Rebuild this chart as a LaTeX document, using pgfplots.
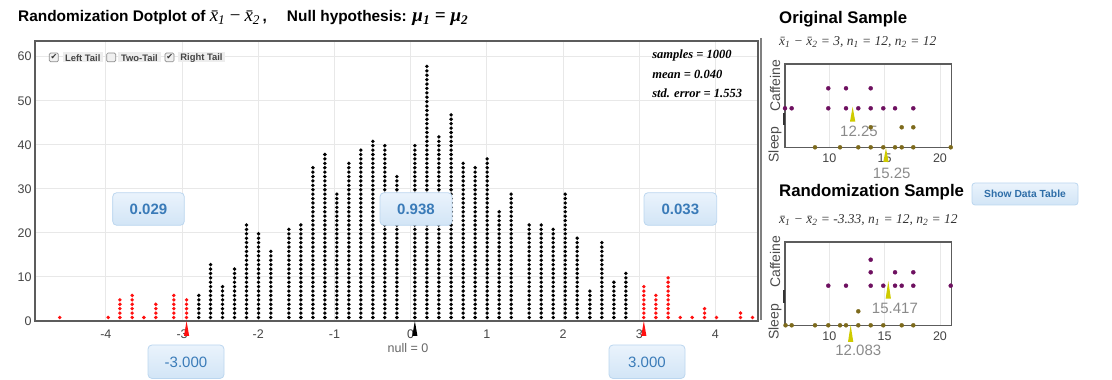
\documentclass[border=0pt]{standalone}
\usepackage{fontspec}
\setmainfont{Liberation Sans}
\newfontfamily\serifit{Liberation Serif}
\newfontfamily\djv{DejaVu Sans}
\usepackage{pgfplots}
\pgfplotsset{compat=1.18}
\definecolor{gridc}{HTML}{E8E8E8}
\definecolor{framec}{HTML}{5C5C5C}
\definecolor{tickc}{HTML}{444444}
\definecolor{dotred}{HTML}{FF1010}
\definecolor{boxtop}{HTML}{EAF3FC}
\definecolor{boxbot}{HTML}{D2E5F6}
\definecolor{boxbd}{HTML}{BBD6EF}
\definecolor{boxtxt}{HTML}{3A7BB8}
\definecolor{purp}{HTML}{6E1060}
\definecolor{oliv}{HTML}{7D6A1C}
\definecolor{yel}{HTML}{CFCB00}
\definecolor{meanc}{HTML}{8A8A8A}
\definecolor{btntxt}{HTML}{2F6EA8}
\newcommand{\fs}[1]{\fontsize{#1}{#1}\selectfont}
\newcommand{\xb}{x^^^^0304}
\begin{document}
\begin{tikzpicture}[x=1pt,y=1pt]
\path[use as bounding box] (0,0) rectangle (1112,380);
% ---------------- main dotplot ----------------
\begin{axis}[
  at={(35pt,59pt)}, anchor=south west,
  x=76.2pt, y=4.405pt,
  xmin=-4.93, xmax=4.56, ymin=0, ymax=63.56,
  axis line style={draw=none},
  xtick={-4,-3,-2,-1,0,1,2,3,4},
  xticklabels={-4,-3,-2,-1,0,1,2,3,4},
  ytick={0,10,20,30,40,50,60},
  major tick length=0pt,
  grid=major, grid style={draw=gridc, line width=0.9pt},
  tick label style={font=\fs{12.5}, text=tickc},
  xticklabel style={yshift=-5pt},
  /pgf/number format/assume math mode=true,
  clip=false,
]
\addplot[ycomb, draw=dotred, line width=3.8pt, line cap=round,
  dash pattern=on 0pt off 4.405pt, dash phase=0.9pt] table[row sep=\\] {
x n\\
-4.604 1\\ -3.970 1\\ -3.816 5\\ -3.655 6\\ -3.501 1\\ -3.344 4\\ -3.108 6\\ -2.941 5\\
};
\addplot[ycomb, draw=black, line width=3.8pt, line cap=round,
  dash pattern=on 0pt off 4.405pt, dash phase=0.9pt] table[row sep=\\] {
x n\\
-2.780 6\\ -2.626 13\\ -2.469 8\\ -2.311 12\\ -2.154 22\\ -1.996 20\\ -1.835 16\\
-1.598 21\\ -1.441 22\\ -1.283 35\\ -1.126 38\\ -0.969 29\\ -0.811 36\\ -0.654 39\\
-0.496 41\\ -0.339 40\\ -0.181 33\\ 0.055 40\\ 0.213 58\\ 0.370 42\\ 0.531 47\\
0.689 36\\ 0.846 35\\ 1.004 37\\ 1.161 25\\ 1.319 29\\ 1.555 22\\ 1.713 22\\
1.870 21\\ 2.028 29\\ 2.185 19\\ 2.352 7\\ 2.509 18\\ 2.667 9\\ 2.824 11\\
};
\addplot[ycomb, draw=dotred, line width=3.8pt, line cap=round,
  dash pattern=on 0pt off 4.405pt, dash phase=0.9pt] table[row sep=\\] {
x n\\
3.060 8\\ 3.218 6\\ 3.379 10\\ 3.537 1\\ 3.694 1\\ 3.857 3\\ 4.014 1\\ 4.329 2\\ 4.487 1\\
};
\draw[framec, line width=2pt] (rel axis cs:0,0) rectangle (rel axis cs:1,1);
% pointers
\fill[dotred] (axis cs:-2.941,0) -- ([xshift=-2.6pt,yshift=-15pt]axis cs:-2.941,0) -- ([xshift=2.6pt,yshift=-15pt]axis cs:-2.941,0) -- cycle;
\fill[dotred] (axis cs:3.060,0) -- ([xshift=-2.6pt,yshift=-15pt]axis cs:3.060,0) -- ([xshift=2.6pt,yshift=-15pt]axis cs:3.060,0) -- cycle;
\fill[black] (axis cs:0.055,0) -- ([xshift=-2.6pt,yshift=-15pt]axis cs:0.055,0) -- ([xshift=2.6pt,yshift=-15pt]axis cs:0.055,0) -- cycle;
\end{axis}
% title
\node[anchor=west, inner sep=0] at (18,362) {\fs{15.4}\bfseries Randomization Dotplot of {\serifit\mdseries\itshape\fs{19}\xb\textsubscript{1}\,−\,\xb\textsubscript{2}}\,,\hspace{1.3em}Null hypothesis: {\serifit\itshape\fs{19}μ\textsubscript{1} = μ\textsubscript{2}}};
% stats
\node[anchor=west, inner sep=0] at (649,325) {\serifit\bfseries\itshape\fs{12.5} samples = 1000};
\node[anchor=west, inner sep=0] at (649,306) {\serifit\bfseries\itshape\fs{12.5} mean = 0.040};
\node[anchor=west, inner sep=0] at (649,287) {\serifit\bfseries\itshape\fs{12.5} std. error = 1.553};
% checkboxes
\foreach \a/\b in {62.7/102.7, 118/160.7, 178/225}{\fill[black!7] (\a,317.5) rectangle (\b,327.5);}
\foreach \a in {49.3, 106.7, 165}{\draw[black!45, fill=black!6, rounded corners=1.2pt, line width=0.7pt] (\a,318.3) rectangle ++(9,8.6);}
\node[inner sep=0] at (54,322.8) {\djv\fs{8}\color{black!80}✔};
\node[inner sep=0] at (169.7,322.8) {\djv\fs{8}\color{black!80}✔};
\node[inner sep=0] at (82.7,322.3) {\fs{9.4}\bfseries\color{tickc}Left Tail};
\node[inner sep=0] at (139.4,322.3) {\fs{9.4}\bfseries\color{tickc}Two-Tail};
\node[inner sep=0] at (201.5,322.3) {\fs{9.4}\bfseries\color{tickc}Right Tail};
% proportion boxes
\foreach \a/\b/\t in {112.7/184.3/0.029, 380/452/0.938, 644/716.7/0.033}{
  \draw[boxbd, top color=boxtop, bottom color=boxbot, rounded corners=4pt, line width=0.8pt] (\a,154.7) rectangle (\b,187.3);
  \node[inner sep=0] at ({(\a+\b)/2},171) {\fs{15}\bfseries\color{boxtxt}\t};
}
\foreach \a/\b/\t in {148/224/-3.000, 609/685/3.000}{
  \draw[boxbd, top color=boxtop, bottom color=boxbot, rounded corners=4pt, line width=0.8pt] (\a,1.5) rectangle (\b,35);
  \node[inner sep=0] at ({(\a+\b)/2},18) {\fs{15}\color{boxtxt}\t};
}
\node[inner sep=0] at (408,32) {\fs{12.5}\color{black!60}null = 0};
% separator
\draw[black!50, line width=1.4pt] (761,342) -- (761,60);
% ---------------- right panels ----------------
\node[anchor=west, inner sep=0] at (779,361) {\fs{16.8}\bfseries Original Sample};
\node[anchor=west, inner sep=0] at (779,338.3) {\serifit\itshape\fs{13.5}\color{black!80}\xb\textsubscript{1} − \xb\textsubscript{2} = 3, n\textsubscript{1} = 12, n\textsubscript{2} = 12};
\node[anchor=west, inner sep=0] at (779,188.3) {\fs{16.8}\bfseries Randomization Sample};
\node[anchor=west, inner sep=0] at (779,160) {\serifit\itshape\fs{13.5}\color{black!80}\xb\textsubscript{1} − \xb\textsubscript{2} = -3.33, n\textsubscript{1} = 12, n\textsubscript{2} = 12};
\draw[boxbd, top color=boxtop, bottom color=boxbot, rounded corners=3pt, line width=0.8pt] (972,175) rectangle (1078,197);
\node[inner sep=0] at (1025,186) {\fs{10.3}\bfseries\color{btntxt}Show Data Table};
\pgfplotsset{smallax/.style={
  anchor=south west, x=11.07pt, y=1pt,
  xmin=6.0, xmax=21.06, ymin=0, ymax=83.3,
  axis line style={draw=none},
  xtick={10,15,20}, ytick=\empty,
  major tick length=0pt,
  xmajorgrids, grid style={draw=gridc, line width=0.8pt},
  tick label style={font=\fs{12.5}, text=tickc},
  xticklabel style={yshift=-3pt},
  /pgf/number format/assume math mode=true,
  clip=false}}
% original sample
\begin{axis}[smallax, at={(785pt,232.7pt)}]
\addplot[only marks, mark=*, mark size=2pt, color=purp] coordinates {
(9.91,59) (11.51,59) (13.74,59)
(6.0,39) (6.6,39) (9.91,39) (11.51,39) (12.62,39) (13.74,39) (14.88,39) (15.94,39) (17.59,39)};
\addplot[only marks, mark=*, mark size=2pt, color=oliv] coordinates {
(13.74,20) (16.54,20) (17.59,20)
(8.71,0) (10.97,0) (12.62,0) (13.74,0) (14.88,0) (15.94,0) (16.54,0) (17.59,0) (20.97,0)};
\draw[framec, line width=1.5pt] (rel axis cs:0,0) rectangle (rel axis cs:1,1);
\draw[black!80, line width=2.5pt] ([xshift=-1pt]rel axis cs:0,0.41) -- ([xshift=-1pt]rel axis cs:0,0.27);
\fill[yel] (axis cs:12.11,40.6) -- (axis cs:11.87,25.6) -- (axis cs:12.35,25.6) -- cycle;
\fill[yel] (axis cs:15.12,-0.7) -- (axis cs:14.88,-14.7) -- (axis cs:15.36,-14.7) -- cycle;
\node[inner sep=0] at (axis cs:12.68,16.3) {\fs{15}\color{meanc}12.25};
\node[inner sep=0] at (axis cs:15.64,-26) {\fs{15}\color{meanc}15.25};
\end{axis}
\node[rotate=90, inner sep=0] at (775,294.3) {\fs{14}\color{black!70}Caffeine};
\node[rotate=90, inner sep=0] at (775,235.5) {\fs{14}\color{black!70}Sleep};
% randomization sample
\begin{axis}[smallax, at={(785pt,54.7pt)}]
\addplot[only marks, mark=*, mark size=2pt, color=purp] coordinates {
(9.91,39.6) (11.51,39.6) (13.74,39.6) (14.88,39.6) (15.94,39.6) (16.54,39.6) (17.59,39.6) (20.97,39.6)
(13.74,53) (15.94,53) (17.59,53) (13.74,65.6)};
\addplot[only marks, mark=*, mark size=2pt, color=oliv] coordinates {
(6.05,0) (6.6,0) (8.71,0) (9.91,0) (10.97,0) (11.51,0) (12.62,0) (13.74,0) (14.88,0) (16.54,0) (17.59,0)
(12.62,14)};
\draw[framec, line width=1.5pt] (rel axis cs:0,0) rectangle (rel axis cs:1,1);
\draw[black!80, line width=2.5pt] ([xshift=-1pt]rel axis cs:0,0.42) -- ([xshift=-1pt]rel axis cs:0,0.27);
\fill[yel] (axis cs:15.33,44.3) -- (axis cs:15.09,26.6) -- (axis cs:15.57,26.6) -- cycle;
\fill[yel] (axis cs:11.93,0.3) -- (axis cs:11.69,-16.7) -- (axis cs:12.17,-16.7) -- cycle;
\node[inner sep=0] at (axis cs:15.93,16.6) {\fs{15}\color{meanc}15.417};
\node[inner sep=0] at (axis cs:12.62,-25.4) {\fs{15}\color{meanc}12.083};
\end{axis}
\node[rotate=90, inner sep=0] at (775,118.3) {\fs{14}\color{black!70}Caffeine};
\node[rotate=90, inner sep=0] at (775,58.3) {\fs{14}\color{black!70}Sleep};
\end{tikzpicture}
\end{document}
